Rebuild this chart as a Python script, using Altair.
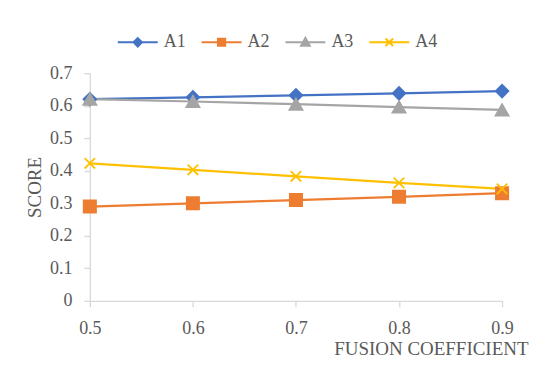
import altair as alt
import pandas as pd

coefficients = [0.5, 0.6, 0.7, 0.8, 0.9]
series_names = ["A1", "A2", "A3", "A4"]
a1 = [0.620, 0.626, 0.632, 0.638, 0.645]
a2 = [0.290, 0.300, 0.310, 0.320, 0.331]
a3 = [0.620, 0.613, 0.605, 0.596, 0.587]
a4 = [0.423, 0.403, 0.383, 0.363, 0.344]
colors = ["#4472C4", "#ED7D31", "#A5A5A5", "#FFC000"]

rows = []
for name, vals in zip(series_names, [a1, a2, a3, a4]):
    for c, v in zip(coefficients, vals):
        rows.append({"coef": c, "score": v, "series": name})
df = pd.DataFrame(rows)

FONT = "Liberation Serif"
TXT = "#595959"
AX = "#D9D9D9"

x_enc = alt.X("coef:Q", scale=alt.Scale(domain=[0.5, 0.9], nice=False, zero=False),
              axis=alt.Axis(values=coefficients, format=".1f", title="FUSION COEFFICIENT",
                            titleAnchor="end", titleAlign="right", titleX=439, titleY=54,
                            titleBaseline="alphabetic", labelPadding=13, tickSize=6,
                            labelFlush=False))
y_enc = alt.Y("score:Q", scale=alt.Scale(domain=[0, 0.7], nice=False),
              axis=alt.Axis(values=[0, 0.1, 0.2, 0.3, 0.4, 0.5, 0.6, 0.7], format="~g",
                            title="SCORE", titleX=-55, titleY=114, titleAngle=-90,
                            titleAlign="center", titleBaseline="middle",
                            labelPadding=12, tickSize=6))

stroke_scale = alt.Scale(domain=series_names, range=colors)

base = alt.Chart(df)

lines = base.mark_line(strokeWidth=2.25).encode(
    x=x_enc, y=y_enc,
    stroke=alt.Stroke("series:N", scale=stroke_scale, legend=None),
)

marker_layers = []
shapes = {"A1": ("diamond", 160, True), "A2": ("square", 150, True),
          "A3": ("triangle-up", 170, True), "A4": ("M-1,-1L1,1M-1,1L1,-1", 110, False)}
for name in series_names:
    shp, sz, filled = shapes[name]
    layer = base.transform_filter(alt.datum.series == name).mark_point(
        shape=shp, size=sz, filled=filled, opacity=1, strokeWidth=1.8
    ).encode(
        x=x_enc, y=y_enc,
        stroke=alt.Stroke("series:N", scale=stroke_scale, legend=None),
        fill=alt.Fill("series:N", scale=stroke_scale, legend=None) if filled else alt.value("transparent"),
    )
    marker_layers.append(layer)

legend_paths = [
    "M-1,0H1M-0.21,0L0,-0.21L0.21,0L0,0.21Z",
    "M-1,0H1M-0.18,-0.18H0.18V0.18H-0.18Z",
    "M-1,0H1M0,-0.22L0.22,0.17H-0.22Z",
    "M-1,0H1M-0.19,-0.19L0.19,0.19M-0.19,0.19L0.19,-0.19",
]


def make_legend():
    return alt.Legend(title=None, orient="none", direction="horizontal",
                      legendX=27, legendY=-52, symbolOpacity=1, symbolSize=1600,
                      symbolStrokeWidth=2, labelOffset=5,
                      columnPadding=12, padding=0)


legend_layer = base.mark_point(size=1600, strokeWidth=2, filled=True).encode(
    x=x_enc, y=y_enc,
    opacity=alt.value(0),
    shape=alt.Shape("series:N", scale=alt.Scale(domain=series_names, range=legend_paths),
                    legend=make_legend()),
    fill=alt.Fill("series:N", scale=stroke_scale, legend=make_legend()),
    stroke=alt.Stroke("series:N", scale=stroke_scale, legend=make_legend()),
)

chart = alt.layer(legend_layer, lines, *marker_layers).properties(
    width=413, height=228,
    autosize=alt.AutoSizeParams(type="none"),
    padding={"left": 82, "top": 65, "right": 40, "bottom": 68},
    background="white",
).configure_view(stroke=None).configure_axis(
    grid=False, domainColor=AX, tickColor=AX, domainWidth=1.3, tickWidth=1.3,
    labelFont=FONT, labelFontSize=18, labelColor=TXT,
    titleFont=FONT, titleFontSize=19, titleColor=TXT, titleFontWeight="normal",
).configure_legend(
    labelFont=FONT, labelFontSize=18, labelColor=TXT,
)

chart.save("out.html", embed_options={"renderer": "svg", "actions": False})
